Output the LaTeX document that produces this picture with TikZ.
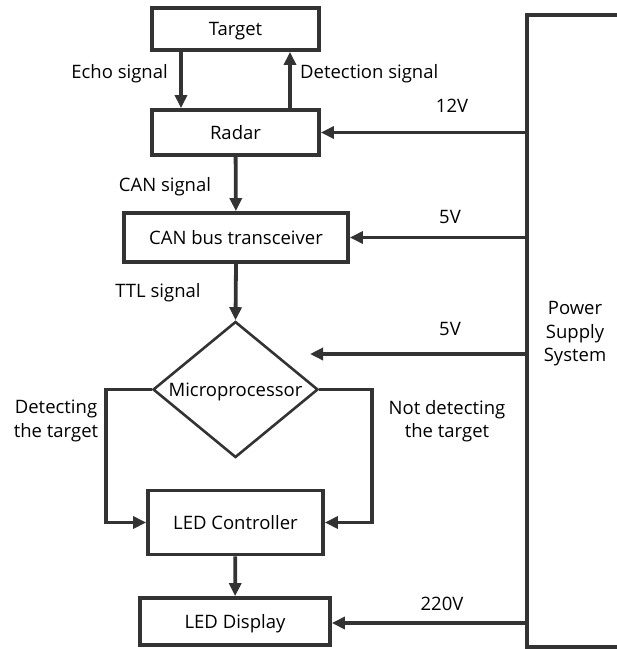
\documentclass[tikz,border=0pt]{standalone}
\usepackage{fontspec}
\setmainfont{Open Sans}
\usetikzlibrary{arrows.meta,shapes.geometric}
\definecolor{ink}{HTML}{333333}
\begin{document}
\begin{tikzpicture}[x=1pt,y=-1pt,
  font=\fontsize{18.5}{23.5}\selectfont,
  blk/.style={draw=ink,line width=3.8pt,inner sep=0pt,text=black,text height=17pt,text depth=4pt},
  conn/.style={draw=ink,line width=3.8pt,-{Triangle[length=13pt,width=12pt]}},
  wire/.style={draw=ink,line width=3.8pt},
  lbl/.style={text=black,inner sep=0pt,align=center}]
\useasboundingbox (0,0) rectangle (617,649);
% blocks
\node[blk,minimum width=167pt,minimum height=42pt] (target) at (235.5,29) {Target};
\node[blk,minimum width=167pt,minimum height=45pt] (radar) at (235.5,132.5) {Radar};
\node[blk,minimum width=224pt,minimum height=49pt] (can) at (236,237.5) {CAN bus transceiver};
\node[draw=ink,line width=2.6pt,diamond,minimum width=165pt,minimum height=136pt,inner sep=0pt] (mcu) at (235.5,389.5) {};
\node[lbl,text height=17pt,text depth=4pt] (mcut) at (mcu.center) {Microprocessor};
\node[blk,minimum width=175pt,minimum height=64pt] (ledc) at (235.5,522.5) {LED Controller};
\node[blk,minimum width=190pt,minimum height=47pt] (ledd) at (235,621.5) {LED Display};
% power supply box
\draw[wire] (617,15) -- (527,15) coordinate (ptop) -- (527,647) coordinate (pbot) -- (617,647);
\node[lbl] (pss) at (575,334) {Power\\Supply\\System};
\coordinate (p12) at (527,132.5);
\coordinate (p5a) at (527,237.5);
\coordinate (p5b) at (527,354);
\coordinate (p5e) at (310,354);
\coordinate (p220) at (527,623);
% connectors
\draw[conn] (target.south -| 181,0) -- (radar.north -| 181,0);
\draw[conn] (radar.north -| 290,0) -- (target.south -| 290,0);
\draw[conn] (radar) -- (can);
\draw[conn] (can.south) -- (mcu.north);
\draw[conn] (ledc) -- (ledd);
\draw[conn] (p12) -- (radar.east);
\draw[conn] (p5a) -- (can.east);
\draw[conn] (p5b) -- (p5e);
\draw[conn] (p220) -- (ledd.east |- p220);
\draw[conn] (mcu.west) -| (106,460) |- (ledc.west);
\draw[conn] (mcu.east) -| (372,460) |- (ledc.east);
% labels
\node[lbl,anchor=east] (echo) at (168,74) {Echo signal};
\node[lbl,anchor=west] (det) at (300,74) {Detection signal};
\node[lbl] (v12) at (452,106) {12V};
\node[lbl] (v5a) at (450,217) {5V};
\node[lbl] (v5b) at (450,329) {5V};
\node[lbl] (v220) at (442,604) {220V};
\node[lbl] (cansig) at (165,187) {CAN signal};
\node[lbl] (ttlsig) at (158,293) {TTL signal};
\node[lbl] (detl) at (56,421) {Detecting\\the target};
\node[lbl] (ndetl) at (447,421) {Not detecting\\the target};
\end{tikzpicture}
\end{document}
